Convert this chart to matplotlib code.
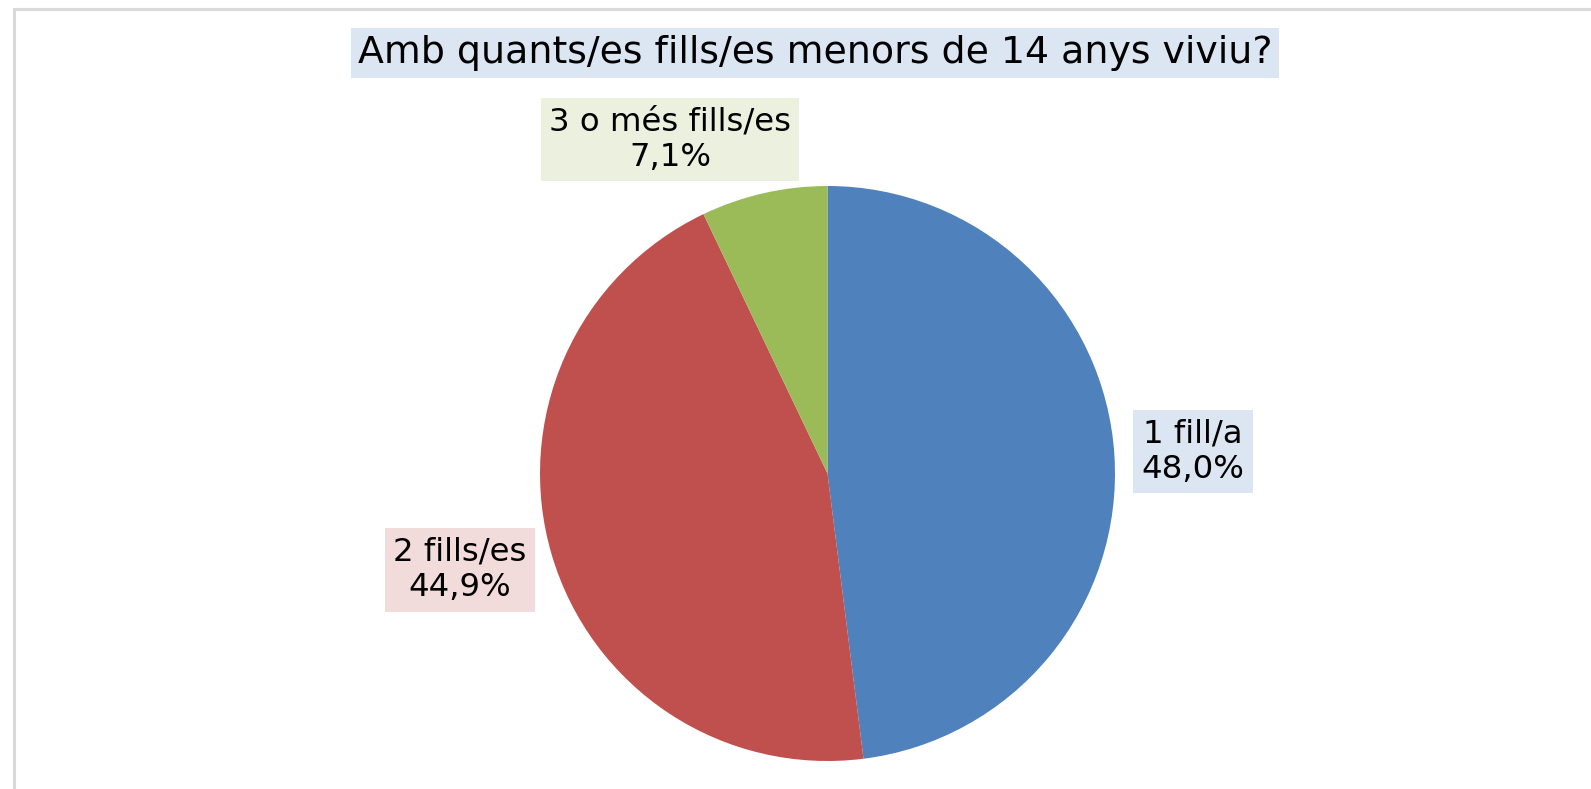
import matplotlib
matplotlib.use('Agg')
import matplotlib.pyplot as plt
from matplotlib.patches import Rectangle

# dades
categories = ['1 fill/a', '2 fills/es', '3 o més fills/es']
values = [48.0, 44.9, 7.1]
colors = ['#4F81BD', '#C0504D', '#9BBB59']
box_colors = ['#DCE6F2', '#F2DCDB', '#EBF1DE']
title = 'Amb quants/es fills/es menors de 14 anys viviu?'

W, H = 1591, 789
fig = plt.figure(figsize=(W / 100, H / 100), dpi=100)
ax = fig.add_axes([0, 0, 1, 1])

# marc gris (tallat a la dreta i a baix)
ax.add_patch(Rectangle((13.5, -20), W + 50, H - 8.5 + 20, fill=False,
                       edgecolor='#D9D9D9', linewidth=2.2))

ax.pie(values, colors=colors, startangle=90, counterclock=False,
       center=(827.5, H - 473.5), radius=287.5, frame=True,
       wedgeprops=dict(linewidth=0))
ax.set_xlim(0, W)
ax.set_ylim(0, H)
ax.set_aspect('equal')
ax.axis('off')

ax.text(815, H - 53, title, ha='center', va='center', fontsize=27.3,
        family='DejaVu Sans',
        bbox=dict(boxstyle='square,pad=0.18', fc='#DCE6F2', ec='none'))

label_pos = [(1193, H - 451.5), (460, H - 570), (670, H - 139.5)]
for cat, v, (x, y), bc in zip(categories, values, label_pos, box_colors):
    txt = f'{cat}\n{v:.1f}%'.replace('.', ',')
    ax.text(x, y, txt, ha='center', va='center', fontsize=23.3,
            family='DejaVu Sans', linespacing=1.2,
            bbox=dict(boxstyle='square,pad=0.26', fc=bc, ec='none'))

fig.savefig('out.png', dpi=100)
